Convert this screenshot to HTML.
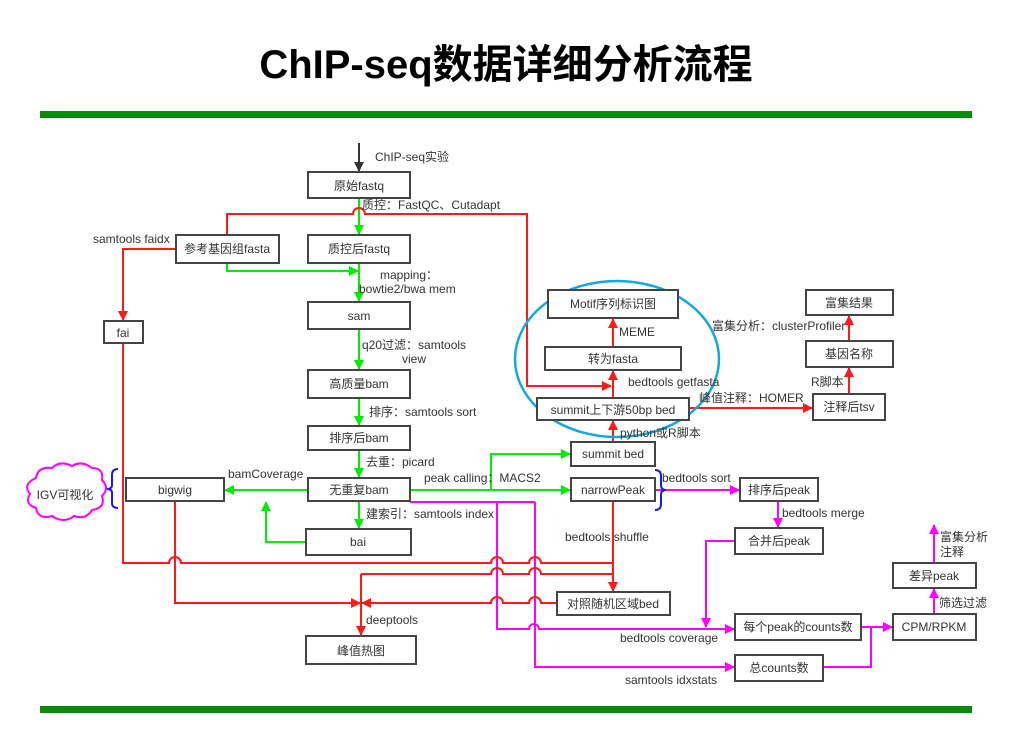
<!DOCTYPE html>
<html><head><meta charset="utf-8"><style>
html,body{margin:0;padding:0;background:#fff;}
svg{display:block;}
text{font-family:"Liberation Sans","Noto Sans CJK SC",sans-serif;font-size:12px;fill:#333;}
.b{fill:#fff;stroke:#444;stroke-width:2;}
.c{text-anchor:middle;}
.g{stroke:#00ee00;stroke-width:2;fill:none;}
.r{stroke:#ff1a1a;stroke-width:2;fill:none;}
.m{stroke:#ff00ff;stroke-width:2;fill:none;}
</style></head><body>
<svg width="1012" height="730" viewBox="0 0 1012 730" xmlns="http://www.w3.org/2000/svg">
<defs>
<marker id="ag" markerWidth="10" markerHeight="10" refX="9" refY="5" orient="auto" markerUnits="userSpaceOnUse"><path d="M0,0 L10,5 L0,10z" fill="#00ee00"/></marker>
<marker id="ar" markerWidth="10" markerHeight="10" refX="9" refY="5" orient="auto" markerUnits="userSpaceOnUse"><path d="M0,0 L10,5 L0,10z" fill="#ff1a1a"/></marker>
<marker id="am" markerWidth="10" markerHeight="10" refX="9" refY="5" orient="auto" markerUnits="userSpaceOnUse"><path d="M0,0 L10,5 L0,10z" fill="#ff00ff"/></marker>
<marker id="ak" markerWidth="10" markerHeight="10" refX="9" refY="5" orient="auto" markerUnits="userSpaceOnUse"><path d="M0,0 L10,5 L0,10z" fill="#333"/></marker>
</defs>
<text x="506" y="78" class="c" style="font-size:40px;font-weight:bold;fill:#000;">ChIP-seq数据详细分析流程</text>
<rect x="40" y="111" width="932" height="7" fill="#0a8a0a"/>
<rect x="40" y="706" width="932" height="7" fill="#0a8a0a"/>

<path d="M359,143 V171" stroke="#333" stroke-width="2" marker-end="url(#ak)"/>
<path class="g" d="M359,198 V234" marker-end="url(#ag)"/>
<path class="r" d="M227,234 V214 H353 a6,6 0 0 1 12,0 H527 V386 H611" marker-end="url(#ar)"/>
<path class="g" d="M227,263 V271 H358" marker-end="url(#ag)"/>
<path class="g" d="M359,263 V301" marker-end="url(#ag)"/>
<path class="r" d="M176,249 H123 V320" marker-end="url(#ar)"/>
<path class="g" d="M359,329 V369" marker-end="url(#ag)"/>
<path class="g" d="M359,398 V425" marker-end="url(#ag)"/>
<path class="g" d="M359,450 V477" marker-end="url(#ag)"/>
<path class="g" d="M359,501 V528" marker-end="url(#ag)"/>
<path class="g" d="M308,490 H225" marker-end="url(#ag)"/>
<path class="g" d="M306,542 H266 V502" marker-end="url(#ag)"/>
<path class="g" d="M410,490 H570" marker-end="url(#ag)"/>
<path class="g" d="M491,490 V454 H570" marker-end="url(#ag)"/>
<path class="m" d="M410,502 H535"/>
<path class="m" d="M497,502 V629 H529 a5,5 0 0 1 10,0 H734" marker-end="url(#am)"/>
<path class="m" d="M535,502 V667 H734" marker-end="url(#am)"/>
<path class="r" d="M123,343 V563 H169 a6,6 0 0 1 12,0 H491 a6,6 0 0 1 12,0 H529 a6,6 0 0 1 12,0 H613"/>
<path class="r" d="M613,501 V591" marker-end="url(#ar)"/>
<path class="r" d="M361,574 H491 a6,6 0 0 1 12,0 H529 a6,6 0 0 1 12,0 H613"/>
<path class="r" d="M557,603 H541 a6,6 0 0 0 -12,0 H503 a6,6 0 0 0 -12,0 H362" marker-end="url(#ar)"/>
<path class="r" d="M175,501 V603 H360" marker-end="url(#ar)"/>
<path class="r" d="M361,574 V635" marker-end="url(#ar)"/>
<path class="m" d="M655,490 H739" marker-end="url(#am)"/>
<path class="m" d="M778,501 V527" marker-end="url(#am)"/>
<path class="m" d="M735,541 H706 V627" marker-end="url(#am)"/>
<path class="m" d="M861,627 H892" marker-end="url(#am)"/>
<path class="m" d="M823,667 H871 V627"/>
<path class="m" d="M934,614 V589" marker-end="url(#am)"/>
<path class="m" d="M934,563 V525" marker-end="url(#am)"/>
<path class="r" d="M613,442 V421" marker-end="url(#ar)"/>
<path class="r" d="M613,398 V371" marker-end="url(#ar)"/>
<path class="r" d="M613,347 V319" marker-end="url(#ar)"/>
<path class="r" d="M689,408 H812" marker-end="url(#ar)"/>
<path class="r" d="M849,394 V368" marker-end="url(#ar)"/>
<path class="r" d="M849,341 V316" marker-end="url(#ar)"/>

<path d="M118,469 q-6,0 -6,6 v10 q0,4 -5,4 q5,0 5,4 v10 q0,5 6,5" fill="none" stroke="#1a1aee" stroke-width="2"/>
<path d="M655,470 q6,0 6,6 v9 q0,5 5,5 q-5,0 -5,5 v9 q0,6 -6,6" fill="none" stroke="#1a1aee" stroke-width="2"/>
<path d="M36,478 q2,-12 16,-10 q8,-8 20,-2 q10,-6 20,2 q12,0 10,12 q8,8 0,16 q4,12 -10,14 q-6,10 -18,6 q-10,8 -22,0 q-14,4 -16,-8 q-12,-4 -6,-14 q-8,-10 6,-16z" fill="#fff" stroke="#ff00ff" stroke-width="2"/>
<text x="65" y="499" class="c">IGV可视化</text>
<ellipse cx="617" cy="359" rx="102" ry="78" fill="none" stroke="#14a8e0" stroke-width="2.5"/>

<rect class="b" x="308" y="172" width="102" height="26"/><text x="359" y="190" class="c">原始fastq</text>
<rect class="b" x="176" y="235" width="103" height="28"/><text x="227" y="253" class="c">参考基因组fasta</text>
<rect class="b" x="308" y="235" width="102" height="28"/><text x="359" y="253" class="c">质控后fastq</text>
<rect class="b" x="104" y="321" width="39" height="22"/><text x="123" y="337" class="c">fai</text>
<rect class="b" x="308" y="302" width="102" height="27"/><text x="359" y="320" class="c">sam</text>
<rect class="b" x="308" y="370" width="102" height="28"/><text x="359" y="388" class="c">高质量bam</text>
<rect class="b" x="308" y="426" width="102" height="24"/><text x="359" y="442" class="c">排序后bam</text>
<rect class="b" x="126" y="478" width="98" height="23"/><text x="175" y="494" class="c">bigwig</text>
<rect class="b" x="308" y="478" width="102" height="23"/><text x="359" y="494" class="c">无重复bam</text>
<rect class="b" x="306" y="529" width="105" height="26"/><text x="358" y="546" class="c">bai</text>
<rect class="b" x="306" y="636" width="110" height="28"/><text x="361" y="655" class="c">峰值热图</text>
<rect class="b" x="548" y="290" width="130" height="28"/><text x="613" y="308" class="c">Motif序列标识图</text>
<rect class="b" x="545" y="347" width="136" height="23"/><text x="613" y="363" class="c">转为fasta</text>
<rect class="b" x="537" y="398" width="152" height="22"/><text x="613" y="414" class="c">summit上下游50bp bed</text>
<rect class="b" x="571" y="442" width="84" height="24"/><text x="613" y="458" class="c">summit bed</text>
<rect class="b" x="571" y="478" width="84" height="23"/><text x="613" y="494" class="c">narrowPeak</text>
<rect class="b" x="740" y="478" width="78" height="23"/><text x="779" y="494" class="c">排序后peak</text>
<rect class="b" x="735" y="528" width="88" height="26"/><text x="779" y="545" class="c">合并后peak</text>
<rect class="b" x="557" y="592" width="113" height="23"/><text x="613" y="608" class="c">对照随机区域bed</text>
<rect class="b" x="735" y="614" width="126" height="26"/><text x="798" y="631" class="c">每个peak的counts数</text>
<rect class="b" x="735" y="655" width="88" height="26"/><text x="779" y="672" class="c">总counts数</text>
<rect class="b" x="893" y="614" width="83" height="26"/><text x="934" y="631" class="c">CPM/RPKM</text>
<rect class="b" x="893" y="563" width="83" height="25"/><text x="934" y="580" class="c">差异peak</text>
<rect class="b" x="806" y="290" width="87" height="25"/><text x="849" y="307" class="c">富集结果</text>
<rect class="b" x="806" y="341" width="87" height="26"/><text x="849" y="358" class="c">基因名称</text>
<rect class="b" x="813" y="394" width="72" height="26"/><text x="849" y="411" class="c">注释后tsv</text>

<text x="375" y="161">ChIP-seq实验</text>
<text x="362" y="209">质控：FastQC、Cutadapt</text>
<text x="93" y="243">samtools faidx</text>
<text x="380" y="279">mapping：</text>
<text x="359" y="293">bowtie2/bwa mem</text>
<text x="362" y="349">q20过滤：samtools</text>
<text x="402" y="363">view</text>
<text x="369" y="416">排序：samtools sort</text>
<text x="366" y="466">去重：picard</text>
<text x="228" y="478">bamCoverage</text>
<text x="424" y="482">peak calling：MACS2</text>
<text x="366" y="518">建索引：samtools index</text>
<text x="565" y="541">bedtools shuffle</text>
<text x="366" y="624">deeptools</text>
<text x="662" y="482">bedtools sort</text>
<text x="782" y="517">bedtools merge</text>
<text x="620" y="642">bedtools coverage</text>
<text x="625" y="684">samtools idxstats</text>
<text x="939" y="607">筛选过滤</text>
<text x="940" y="541">富集分析</text>
<text x="940" y="556">注释</text>
<text x="620" y="437">python或R脚本</text>
<text x="628" y="386">bedtools getfasta</text>
<text x="619" y="336">MEME</text>
<text x="699" y="402">峰值注释：HOMER</text>
<text x="811" y="386">R脚本</text>
<text x="712" y="330">富集分析：clusterProfiler</text>
</svg>
</body></html>
